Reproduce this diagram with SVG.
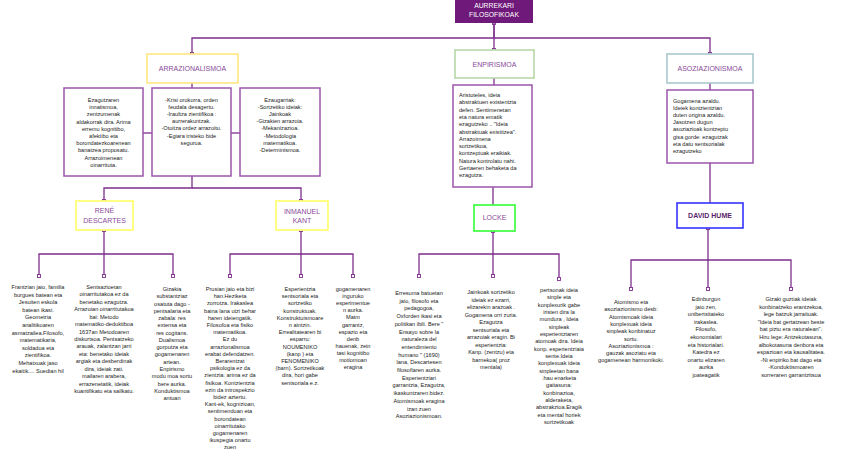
<svg xmlns="http://www.w3.org/2000/svg" width="848" height="475" viewBox="0 0 848 475">
<style>
.bg{fill:#ffffff}
.title{fill:#6f1a7a}
.tt{font-family:"Liberation Sans",Arial,sans-serif;font-size:6.8px;fill:#ffffff;text-anchor:middle}
.l1{fill:#ffffff;stroke-width:1.6}
.lt{font-family:"Liberation Sans",Arial,sans-serif;font-size:7px;fill:#8a4a9a;text-anchor:middle}
.desc{fill:#ffffff;stroke:#9c55ab;stroke-width:1.5}
.l2{fill:#ffffff;stroke-width:1.6}
.b{font-family:"Liberation Sans",Arial,sans-serif;font-size:5.6px;fill:#222222}
.c{text-anchor:middle}
.con{fill:none;stroke:#7d2e8c;stroke-width:1.3}
</style>
<defs>
<marker id="sq" viewBox="0 0 4 4" refX="2" refY="2" markerWidth="4" markerHeight="4" markerUnits="userSpaceOnUse">
<rect x="0.5" y="0.5" width="3" height="3" fill="#ffffff" stroke="#7d2e8c" stroke-width="0.9"/>
</marker>
</defs>
<rect class="bg" x="0" y="0" width="848" height="475"/>

<g id="connectors">
<path class="con" d="M494,23 V38 H192 V54" marker-start="url(#sq)" marker-end="url(#sq)"/>
<path class="con" d="M494,23 V50" marker-end="url(#sq)"/>
<path class="con" d="M494,38 H710 V54" marker-end="url(#sq)"/>
<path class="con" d="M192,83 V88"/>
<path class="con" d="M143,133 H152"/>
<path class="con" d="M231,133 H240"/>
<path class="con" d="M192,176 V188 H104 V201" marker-end="url(#sq)"/>
<path class="con" d="M192,188 H301 V201" marker-end="url(#sq)"/>
<path class="con" d="M104,230 V254 H39 V276" marker-start="url(#sq)" marker-end="url(#sq)"/>
<path class="con" d="M104,254 V276" marker-end="url(#sq)"/>
<path class="con" d="M104,254 H173 V276" marker-end="url(#sq)"/>
<path class="con" d="M301,230 V254 H230 V276" marker-start="url(#sq)" marker-end="url(#sq)"/>
<path class="con" d="M301,254 V276" marker-end="url(#sq)"/>
<path class="con" d="M301,254 H353 V276" marker-end="url(#sq)"/>
<path class="con" d="M494,78 V85"/>
<path class="con" d="M493,187 V205"/>
<path class="con" d="M493,231 V254 H419 V276" marker-start="url(#sq)" marker-end="url(#sq)"/>
<path class="con" d="M493,254 V276" marker-end="url(#sq)"/>
<path class="con" d="M493,254 H559 V279" marker-end="url(#sq)"/>
<path class="con" d="M710,83 V90"/>
<path class="con" d="M710,163 V203"/>
<path class="con" d="M708,228 V260 H631 V289" marker-start="url(#sq)" marker-end="url(#sq)"/>
<path class="con" d="M708,260 V289" marker-end="url(#sq)"/>
<path class="con" d="M708,260 H791 V289" marker-end="url(#sq)"/>
</g>

<g id="n-title">
<rect class="title" x="455" y="0" width="78" height="23"/>
<text class="tt" x="494" y="8">AURREKARI</text>
<text class="tt" x="494" y="17">FILOSOFIKOAK</text>
</g>

<g id="n-arrazionalismoa">
<rect class="l1" x="147" y="54" width="91" height="29" stroke="#ffe680"/>
<text class="lt" x="192.5" y="71">ARRAZIONALISMOA</text>
</g>
<g id="n-enpirismoa">
<rect class="l1" x="455" y="50" width="79" height="28" stroke="#b6d7a8"/>
<text class="lt" x="494.5" y="66.5">ENPIRISMOA</text>
</g>
<g id="n-asoziazionismoa">
<rect class="l1" x="667" y="54" width="86" height="29" stroke="#a9c9ce"/>
<text class="lt" x="710" y="71">ASOZIAZIONISMOA</text>
</g>

<g id="n-arraz-d1">
<rect class="desc" x="64" y="88" width="79" height="88"/>
<text class="b c" x="103.5" y="102"><tspan x="103.5" dy="0">Ezagutzaren</tspan><tspan x="103.5" dy="7.2">innatismoa,</tspan><tspan x="103.5" dy="7.2">zentzumenak</tspan><tspan x="103.5" dy="7.2">aldakorrak dira. Arima</tspan><tspan x="103.5" dy="7.2">erremu kognitibo,</tspan><tspan x="103.5" dy="7.2">afektibo eta</tspan><tspan x="103.5" dy="7.2">borondatezkoarenean</tspan><tspan x="103.5" dy="7.2">banatzea proposatu.</tspan><tspan x="103.5" dy="7.2">Arrazoimenean</tspan><tspan x="103.5" dy="7.2">oinarrituta.</tspan></text>
</g>
<g id="n-arraz-d2">
<rect class="desc" x="152" y="88" width="79" height="88"/>
<text class="b c" x="191.5" y="102"><tspan x="191.5" dy="0">-Krisi orokorra, orden</tspan><tspan x="191.5" dy="7.1">feudala desagertu.</tspan><tspan x="191.5" dy="7.1">-Iraultza zientifikoa :</tspan><tspan x="191.5" dy="7.1">aurrerakuntzak.</tspan><tspan x="191.5" dy="7.1">-Otoitza ordez arrazoitu.</tspan><tspan x="191.5" dy="7.1">-Egiara iristeko bide</tspan><tspan x="191.5" dy="7.1">segurua.</tspan></text>
</g>
<g id="n-arraz-d3">
<rect class="desc" x="240" y="88" width="80" height="88"/>
<text class="b c" x="280" y="102"><tspan x="280" dy="0">Ezaugarriak:</tspan><tspan x="280" dy="7.1">-Sortzetiko ideiak:</tspan><tspan x="280" dy="7.1">Jainkoak</tspan><tspan x="280" dy="7.1">-Gizakien arrazoia.</tspan><tspan x="280" dy="7.1">-Mekanizazioa.</tspan><tspan x="280" dy="7.1">-Metodologia</tspan><tspan x="280" dy="7.1">matematikoa.</tspan><tspan x="280" dy="7.1">-Determinismoa.</tspan></text>
</g>

<g id="n-enpir-d1">
<rect class="desc" x="453" y="85" width="79" height="102"/>
<text class="b" x="459" y="97"><tspan x="459" dy="0">Aristoteles, ideia</tspan><tspan x="459" dy="7.3">abstraktuen existentzia</tspan><tspan x="459" dy="7.3">defen. Sentimenetan</tspan><tspan x="459" dy="7.3">eta natura ematik</tspan><tspan x="459" dy="7.3">ezagutzeko .. "Ideia</tspan><tspan x="459" dy="7.3">abstraktuak existitzea".</tspan><tspan x="459" dy="7.3">Arrazoimena</tspan><tspan x="459" dy="7.3">sortzetikoa,</tspan><tspan x="459" dy="7.3">kontzeptuak eraikiak.</tspan><tspan x="459" dy="7.3">Natura kontrolatu nahi.</tspan><tspan x="459" dy="7.3">Gertaeren behaketa da</tspan><tspan x="459" dy="7.3">ezagutza.</tspan></text>
</g>

<g id="n-asoz-d1">
<rect class="desc" x="667" y="90" width="86" height="73"/>
<text class="b" x="673" y="103"><tspan x="673" dy="0">Gogamena azaldu.</tspan><tspan x="673" dy="7.1">Ideiek kontzientzian</tspan><tspan x="673" dy="7.1">duten origina azaldu.</tspan><tspan x="673" dy="7.1">Jasotzen dugun</tspan><tspan x="673" dy="7.1">asoziazioak kontzeptu</tspan><tspan x="673" dy="7.1">gisa gorde: ezagutzak</tspan><tspan x="673" dy="7.1">eta datu sentsorialak</tspan><tspan x="673" dy="7.1">ezagutzeko</tspan></text>
</g>

<g id="n-descartes">
<rect class="l2" x="76" y="201" width="57" height="29" stroke="#ffff66"/>
<text class="lt" x="104.5" y="213">RENÉ</text>
<text class="lt" x="104.5" y="223">DESCARTES</text>
</g>
<g id="n-kant">
<rect class="l2" x="276" y="201" width="52" height="29" stroke="#ffff66"/>
<text class="lt" x="302" y="214">INMANUEL</text>
<text class="lt" x="302" y="223">KANT</text>
</g>
<g id="n-locke">
<rect class="l2" x="474" y="205" width="41" height="26" stroke="#33ff33"/>
<text class="lt" x="494.5" y="220">LOCKE</text>
</g>
<g id="n-hume">
<rect class="l2" x="677" y="203" width="66" height="25" stroke="#3333ff"/>
<text class="lt" x="710" y="218" style="fill:#5a1f6a;font-weight:bold">DAVID HUME</text>
</g>

<g id="n-descartes-1">
<text class="b c" x="38" y="289"><tspan x="38" dy="0">Frantzian jaio, familia</tspan><tspan x="38" dy="7.6">burgues batean eta</tspan><tspan x="38" dy="7.6">Jesuiten eskola</tspan><tspan x="38" dy="7.6">batean ikasi.</tspan><tspan x="38" dy="7.6">Geometria</tspan><tspan x="38" dy="7.6">analitikoaren</tspan><tspan x="38" dy="7.6">asmatzailea.Filosofo,</tspan><tspan x="38" dy="7.6">matematikaria,</tspan><tspan x="38" dy="7.6">soldadua eta</tspan><tspan x="38" dy="7.6">zientifikoa.</tspan><tspan x="38" dy="7.6">Mehatxuak jaso</tspan><tspan x="38" dy="7.6">ekaitik.... Suedian hil</tspan></text>
</g>
<g id="n-descartes-2">
<text class="b c" x="104" y="289"><tspan x="104" dy="0">Sentsazioetan</tspan><tspan x="104" dy="7.43">oinarritutakoa ez da</tspan><tspan x="104" dy="7.43">benetako ezagutza.</tspan><tspan x="104" dy="7.43">Arrazoian oinarritutakoa</tspan><tspan x="104" dy="7.43">bai: Metodo</tspan><tspan x="104" dy="7.43">matematiko-deduktiboa</tspan><tspan x="104" dy="7.43">1637an Metodoaren</tspan><tspan x="104" dy="7.43">diskurtsoa. Pentsatzeko</tspan><tspan x="104" dy="7.43">arauak, zalantzan jarri</tspan><tspan x="104" dy="7.43">eta: benetako ideiak</tspan><tspan x="104" dy="7.43">argiak eta desberdinak</tspan><tspan x="104" dy="7.43">dira, ideiak zati.</tspan><tspan x="104" dy="7.43">mailaren arabera,</tspan><tspan x="104" dy="7.43">errazenetatik, ideiak</tspan><tspan x="104" dy="7.43">kuantifikatu eta sailkatu.</tspan></text>
</g>
<g id="n-descartes-3">
<text class="b c" x="172" y="291"><tspan x="172" dy="0">Gizakia</tspan><tspan x="172" dy="7.27">substantziaz</tspan><tspan x="172" dy="7.27">osatuta dago -</tspan><tspan x="172" dy="7.27">pentsalaria eta</tspan><tspan x="172" dy="7.27">zabala: res</tspan><tspan x="172" dy="7.27">extensa eta</tspan><tspan x="172" dy="7.27">res cogitans.</tspan><tspan x="172" dy="7.27">Dualismoa</tspan><tspan x="172" dy="7.27">gorputza eta</tspan><tspan x="172" dy="7.27">gogamenaren</tspan><tspan x="172" dy="7.27">artean.</tspan><tspan x="172" dy="7.27">Enpirismo</tspan><tspan x="172" dy="7.27">modu moa sortu</tspan><tspan x="172" dy="7.27">bere aurka.</tspan><tspan x="172" dy="7.27">Konduktismoa</tspan><tspan x="172" dy="7.27">antuan</tspan></text>
</g>

<g id="n-kant-1">
<text class="b c" x="230" y="291"><tspan x="230" dy="0">Prusian jaio eta bizi</tspan><tspan x="230" dy="7.2">han.Heziketa</tspan><tspan x="230" dy="7.2">zorrotza. Irakaslea</tspan><tspan x="230" dy="7.2">baina lana utzi behar</tspan><tspan x="230" dy="7.2">haren ideiengatik.</tspan><tspan x="230" dy="7.2">Filosofoa eta fisiko</tspan><tspan x="230" dy="7.2">matematikoa.</tspan><tspan x="230" dy="7.2">Ez du</tspan><tspan x="230" dy="7.2">arrazionalismoa</tspan><tspan x="230" dy="7.2">erabat defendatzen.</tspan><tspan x="230" dy="7.2">Berarentzat</tspan><tspan x="230" dy="7.2">psikologia ez da</tspan><tspan x="230" dy="7.2">zientzia: arima ez da</tspan><tspan x="230" dy="7.2">fisikoa. Kontzientzia</tspan><tspan x="230" dy="7.2">ezin da introspekzio</tspan><tspan x="230" dy="7.2">bidez aztertu.</tspan><tspan x="230" dy="7.2">Kant-ek, kognizioan,</tspan><tspan x="230" dy="7.2">sentimenduan eta</tspan><tspan x="230" dy="7.2">borondatean</tspan><tspan x="230" dy="7.2">oinarritutako</tspan><tspan x="230" dy="7.2">gogamenaren</tspan><tspan x="230" dy="7.2">ikuspegia onartu</tspan><tspan x="230" dy="7.2">zuen</tspan></text>
</g>
<g id="n-kant-2">
<text class="b c" x="300" y="291"><tspan x="300" dy="0">Esperientzia</tspan><tspan x="300" dy="7.2">sentsoriala eta</tspan><tspan x="300" dy="7.2">sortzetiko</tspan><tspan x="300" dy="7.2">konstruktuak.</tspan><tspan x="300" dy="7.2">Konstruktuismoare</tspan><tspan x="300" dy="7.2">n aintzin.</tspan><tspan x="300" dy="7.2">Errealitatearen bi</tspan><tspan x="300" dy="7.2">esparru:</tspan><tspan x="300" dy="7.2">NOUMENIKO</tspan><tspan x="300" dy="7.2">(kanp ) eta</tspan><tspan x="300" dy="7.2">FENOMENIKO</tspan><tspan x="300" dy="7.2">(barn). Sortzetikoak</tspan><tspan x="300" dy="7.2">dira, hori gabe</tspan><tspan x="300" dy="7.2">sentsoriala e.z.</tspan></text>
</g>
<g id="n-kant-3">
<text class="b c" x="353" y="291"><tspan x="353" dy="0">gogamenaren</tspan><tspan x="353" dy="7.1">inguruko</tspan><tspan x="353" dy="7.1">esperimentue</tspan><tspan x="353" dy="7.1">n aurka.</tspan><tspan x="353" dy="7.1">Matm</tspan><tspan x="353" dy="7.1">garrantz,</tspan><tspan x="353" dy="7.1">espazio eta</tspan><tspan x="353" dy="7.1">denb</tspan><tspan x="353" dy="7.1">hauenak, zein</tspan><tspan x="353" dy="7.1">tasi kognitibo</tspan><tspan x="353" dy="7.1">motiomoan</tspan><tspan x="353" dy="7.1">eragina</tspan></text>
</g>

<g id="n-locke-1">
<text class="b c" x="419" y="295"><tspan x="419" dy="0">Erresuma batuetan</tspan><tspan x="419" dy="7.7">jaio, filosofo eta</tspan><tspan x="419" dy="7.7">pedagogoa,</tspan><tspan x="419" dy="7.7">Oxforden ikasi eta</tspan><tspan x="419" dy="7.7">politikan ibili. Bere "</tspan><tspan x="419" dy="7.7">Ensayo sobre la</tspan><tspan x="419" dy="7.7">naturaleza del</tspan><tspan x="419" dy="7.7">entendimiento</tspan><tspan x="419" dy="7.7">humano " (1690)</tspan><tspan x="419" dy="7.7">lana, Descartesen</tspan><tspan x="419" dy="7.7">filosofiaren aurka.</tspan><tspan x="419" dy="7.7">Esperientziari</tspan><tspan x="419" dy="7.7">garrantzia, Ezagutza,</tspan><tspan x="419" dy="7.7">ikaskuntzaren bidez.</tspan><tspan x="419" dy="7.7">Atomismoak eragina</tspan><tspan x="419" dy="7.7">izan zuen</tspan><tspan x="419" dy="7.7">Asoziazionismoan.</tspan></text>
</g>
<g id="n-locke-2">
<text class="b c" x="491" y="294"><tspan x="491" dy="0">Jainkoak sortzetiko</tspan><tspan x="491" dy="7.5">ideiak ez ezarri,</tspan><tspan x="491" dy="7.5">elizarekin arazoak .</tspan><tspan x="491" dy="7.5">Gogamena orri zuria.</tspan><tspan x="491" dy="7.5">Ezagutza</tspan><tspan x="491" dy="7.5">sentsoriala eta</tspan><tspan x="491" dy="7.5">arrazoiak eragin. Bi</tspan><tspan x="491" dy="7.5">esperientzia:</tspan><tspan x="491" dy="7.5">Kanp. (zentzu) eta</tspan><tspan x="491" dy="7.5">barnekoa( proz</tspan><tspan x="491" dy="7.5">mentala)</tspan></text>
</g>
<g id="n-locke-3">
<text class="b c" x="559" y="292"><tspan x="559" dy="0">pertsonak ideia</tspan><tspan x="559" dy="7.33">sinple eta</tspan><tspan x="559" dy="7.33">konplexurik gabe</tspan><tspan x="559" dy="7.33">iristen dira la</tspan><tspan x="559" dy="7.33">mundura , Ideia</tspan><tspan x="559" dy="7.33">sinpleak</tspan><tspan x="559" dy="7.33">esperientziaren</tspan><tspan x="559" dy="7.33">atomoak dira. Ideia</tspan><tspan x="559" dy="7.33">konp. esperientziaia</tspan><tspan x="559" dy="7.33">sente.Ideia</tspan><tspan x="559" dy="7.33">konplexuak ideia</tspan><tspan x="559" dy="7.33">sinpleetan bana</tspan><tspan x="559" dy="7.33">.hau enarketa</tspan><tspan x="559" dy="7.33">gaitasuna:</tspan><tspan x="559" dy="7.33">konbinazioa,</tspan><tspan x="559" dy="7.33">alderaketa,</tspan><tspan x="559" dy="7.33">abstrakzioa.Eragik</tspan><tspan x="559" dy="7.33">eta mental horiek</tspan><tspan x="559" dy="7.33">sortzetikoak</tspan></text>
</g>

<g id="n-hume-1">
<text class="b c" x="631" y="304"><tspan x="631" dy="0">Atomismo eta</tspan><tspan x="631" dy="7.3">asoziazionismo desb:</tspan><tspan x="631" dy="7.3">Atomismoak ideia</tspan><tspan x="631" dy="7.3">konplexuak ideia</tspan><tspan x="631" dy="7.3">sinpleak konbinatuz</tspan><tspan x="631" dy="7.3">sortu.</tspan><tspan x="631" dy="7.3">Asoziazionismoa :</tspan><tspan x="631" dy="7.3">gauzak asoziatu eta</tspan><tspan x="631" dy="7.3">gogamenean harmonikoki.</tspan></text>
</g>
<g id="n-hume-2">
<text class="b c" x="706" y="301"><tspan x="706" dy="0">Edinburgon</tspan><tspan x="706" dy="7.6">jaio zen,</tspan><tspan x="706" dy="7.6">unibertsitateko</tspan><tspan x="706" dy="7.6">irakaslea.</tspan><tspan x="706" dy="7.6">Filosofo,</tspan><tspan x="706" dy="7.6">ekonomialari</tspan><tspan x="706" dy="7.6">eta historialari.</tspan><tspan x="706" dy="7.6">Katedra ez</tspan><tspan x="706" dy="7.6">onartu elizaren</tspan><tspan x="706" dy="7.6">aurka</tspan><tspan x="706" dy="7.6">joateagatik</tspan></text>
</g>
<g id="n-hume-3">
<text class="b c" x="791" y="301"><tspan x="791" dy="0">Gizaki guztiak ideiak</tspan><tspan x="791" dy="7.6">konbinatzeko erantzekoa,</tspan><tspan x="791" dy="7.6">lege batzuk jarraituak.</tspan><tspan x="791" dy="7.6">"Ideia bat gertatzean beste</tspan><tspan x="791" dy="7.6">bat piztu era naturalean".</tspan><tspan x="791" dy="7.6">Hiru lege: Antzekotasuna,</tspan><tspan x="791" dy="7.6">albokotasuna denbora eta</tspan><tspan x="791" dy="7.6">espazioan eta kausalitatea.</tspan><tspan x="791" dy="7.6">-Ni enpiriko bat dago eta</tspan><tspan x="791" dy="7.6">-Konduktismoaren</tspan><tspan x="791" dy="7.6">sorreraren garrantzitsua</tspan></text>
</g>
</svg>
